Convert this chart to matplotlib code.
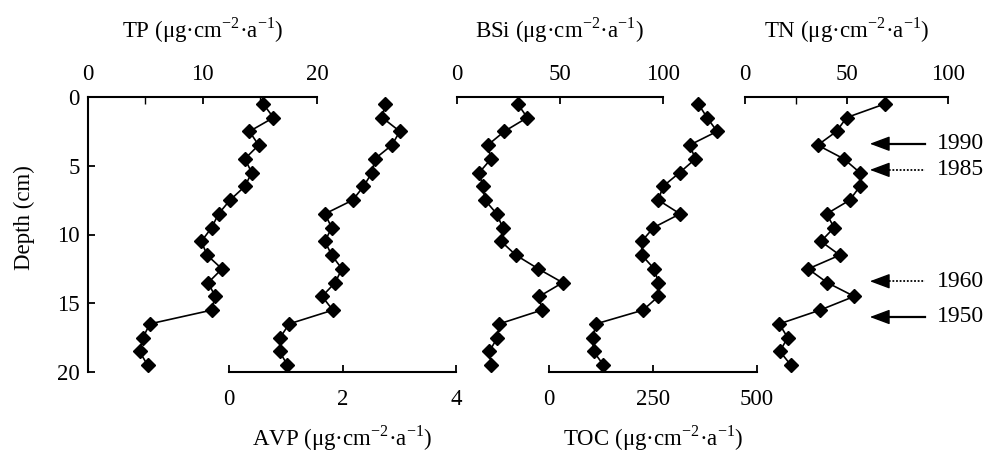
import matplotlib
matplotlib.use("Agg")
import matplotlib.pyplot as plt
import numpy as np

plt.rcParams['font.family'] = ['Liberation Serif', 'DejaVu Serif']
plt.rcParams['mathtext.fontset'] = 'custom'
plt.rcParams['mathtext.rm'] = 'Liberation Serif'
plt.rcParams['font.size'] = 16.5

# sample depths (cm)
depth = [0.5, 1.5, 2.5, 3.5, 4.5, 5.5, 6.5, 7.5, 8.5, 9.5,
         10.5, 11.5, 12.5, 13.5, 14.5, 15.5, 16.5, 17.5, 18.5, 19.5]

tp = [15.3, 16.2, 14.1, 14.9, 13.7, 14.3, 13.7, 12.4, 11.4, 10.8,
      9.9, 10.4, 11.7, 10.5, 11.1, 10.8, 5.4, 4.8, 4.5, 5.2]
avp = [2.75, 2.70, 3.01, 2.87, 2.57, 2.52, 2.37, 2.18, 1.69, 1.81,
       1.69, 1.81, 1.99, 1.87, 1.64, 1.83, 1.06, 0.90, 0.89, 1.03]
bsi = [29.5, 34.1, 23.0, 14.9, 16.5, 10.8, 12.5, 13.6, 19.3, 22.2,
       21.4, 28.6, 39.5, 51.3, 40.0, 41.1, 20.5, 19.6, 15.7, 16.5]
toc = [359, 380, 404, 338, 352, 314, 274, 263, 315, 251,
       223, 223, 253, 263, 263, 226, 113, 105, 107, 131]
tn = [68.9, 50.0, 45.1, 35.8, 48.7, 56.6, 56.6, 51.6, 40.2, 43.9,
      37.4, 46.7, 31.1, 40.5, 53.8, 36.9, 16.9, 21.0, 17.2, 22.6]

years = ['1990', '1985', '1960', '1950']
year_depth = [3.4, 5.3, 13.4, 16.0]
year_style = ['-', ':', ':', '-']

unit = r' (μg·cm$^{\mathregular{-2}}$·a$^{\mathregular{-1}}$)'

W, H = 997, 453
fig = plt.figure(figsize=(W / 100, H / 100), dpi=100)


def make_ax(x0, x1):
    ax = fig.add_axes([x0 / W, 1 - 372 / H, (x1 - x0) / W, 275 / H])
    ax.patch.set_alpha(0)
    ax.set_ylim(20, 0)
    for s in ax.spines.values():
        s.set_visible(False)
        s.set_linewidth(1.5)
    ax.tick_params(direction='in', length=5, width=1.3, pad=9)
    ax.tick_params(which='minor', direction='in', length=5, width=1.0)
    return ax


def profile(ax, vals):
    ax.plot(vals, depth, color='k', lw=1.2, marker='D', ms=7,
            mfc='k', mec='k', clip_on=False, zorder=5)


def top_axis(ax):
    ax.spines['top'].set_visible(True)
    ax.xaxis.tick_top()
    ax.xaxis.set_label_position('top')


def bottom_axis(ax):
    ax.spines['bottom'].set_visible(True)
    ax.tick_params(axis='x', pad=12)


# TP (top) with the depth axis
ax1 = make_ax(88, 317)
top_axis(ax1)
ax1.spines['left'].set_visible(True)
ax1.set_xlim(0, 20)
ax1.set_xticks([0, 10, 20])
ax1.set_xticks([5, 15], minor=True)
ax1.set_yticks([0, 5, 10, 15, 20])
ax1.tick_params(axis='y', pad=6)
ax1.set_ylabel('Depth (cm)')
ax1.yaxis.set_label_coords(-53 / 229, 0.56)
ax1.set_xlabel('TP' + unit, labelpad=19)
profile(ax1, tp)

# AVP (bottom)
ax2 = make_ax(229, 456)
bottom_axis(ax2)
ax2.set_xlim(0, 4)
ax2.set_xticks([0, 2, 4])
ax2.set_yticks([])
ax2.set_xlabel('AVP' + unit, labelpad=10)
profile(ax2, avp)

# BSi (top)
ax3 = make_ax(457, 663)
top_axis(ax3)
ax3.set_xlim(0, 100)
ax3.set_xticks([0, 50, 100])
ax3.set_yticks([])
ax3.set_xlabel('BSi' + unit, labelpad=19)
profile(ax3, bsi)

# TOC (bottom)
ax4 = make_ax(549, 757)
bottom_axis(ax4)
ax4.set_xlim(0, 500)
ax4.set_xticks([0, 250, 500])
ax4.set_yticks([])
ax4.set_xlabel('TOC' + unit, labelpad=10)
profile(ax4, toc)

# TN (top)
ax5 = make_ax(745, 948)
top_axis(ax5)
ax5.set_xlim(0, 100)
ax5.set_xticks([0, 50, 100])
ax5.set_xticks([25], minor=True)
ax5.set_yticks([])
ax5.set_xlabel('TN' + unit, labelpad=19)
profile(ax5, tn)

# dating arrows: shaft (solid or dotted) + solid head
head_x, tail_x = 61.5, 88.5
for yr, d, ls in zip(years, year_depth, year_style):
    if ls == '-':
        ax5.plot([head_x + 4, tail_x], [d, d], color='k', lw=1.6,
                 clip_on=False)
    else:
        ax5.plot([head_x + 4, tail_x], [d, d], color='k', lw=1.3,
                 linestyle=(0, (1, 1)), clip_on=False)
    ax5.annotate('', xy=(head_x, d), xytext=(head_x + 8, d),
                 annotation_clip=False,
                 arrowprops=dict(arrowstyle='-|>,head_length=0.75,head_width=0.28',
                                 color='k', lw=1.0, shrinkA=0, shrinkB=0))
    ax5.text(94.5, d, yr, ha='left', va='center', fontsize=17, clip_on=False)

fig.savefig('out.png', dpi=100)
